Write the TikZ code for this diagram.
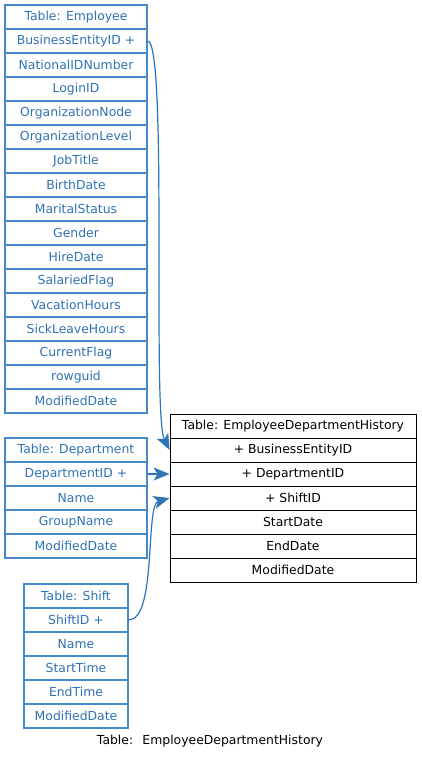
\documentclass[tikz,border=0pt]{standalone}
\usepackage{fontspec}
\setmainfont{DejaVu Sans}
\usetikzlibrary{arrows.meta}
\definecolor{btext}{HTML}{2F72B4}
\definecolor{bline}{HTML}{4589CB}
\definecolor{conn}{HTML}{2E75B6}
\begin{document}
\begin{tikzpicture}[x=1pt,y=-1pt,
  cell/.style={draw, rectangle, inner sep=0pt, minimum height=24pt, font=\fontsize{12.4}{13}\selectfont, anchor=center},
  bcell/.style={cell, draw=bline, line width=1.1pt, text=btext},
  kcell/.style={cell, draw=black, line width=0.9pt, text=black, minimum width=246pt},
  connector/.style={draw=conn, line width=1.2pt, -{Stealth[length=16pt,width=13pt,inset=4pt]}}]
\useasboundingbox (0,0) rectangle (421,760);
% Employee
\foreach \t [count=\i from 0] in {Table: Employee,BusinessEntityID +,NationalIDNumber,LoginID,OrganizationNode,OrganizationLevel,JobTitle,BirthDate,MaritalStatus,Gender,HireDate,SalariedFlag,VacationHours,SickLeaveHours,CurrentFlag,rowguid,ModifiedDate}
  \node[bcell, minimum width=142pt] (e\i) at (76,17+24*\i) {\t};
% Department
\foreach \t [count=\i from 0] in {Table: Department,DepartmentID +,Name,GroupName,ModifiedDate}
  \node[bcell, minimum width=142pt] (d\i) at (76,450+24*\i) {\t};
% Shift
\foreach \t [count=\i from 0] in {Table: Shift,ShiftID +,Name,StartTime,EndTime,ModifiedDate}
  \node[bcell, minimum width=104pt] (s\i) at (76,596+24*\i) {\t};
% EmployeeDepartmentHistory
\foreach \t [count=\i from 0] in {Table: EmployeeDepartmentHistory,+ BusinessEntityID,+ DepartmentID,+ ShiftID,StartDate,EndDate,ModifiedDate}
  \node[kcell] (h\i) at (293,426+24*\i) {\t};
% caption
\node[font=\fontsize{12.4}{13}\selectfont] (cap) at (210,741) {Table:\hspace{4pt} EmployeeDepartmentHistory};
% connectors
\draw[connector] (e1.east) .. controls (168,41) and (152,415) .. (h1.west);
\draw[connector] (d1.east) -- (h2.west);
\draw[connector] (s1.east) .. controls (157,620) and (145,505) .. (h3.west);
\end{tikzpicture}
\end{document}
